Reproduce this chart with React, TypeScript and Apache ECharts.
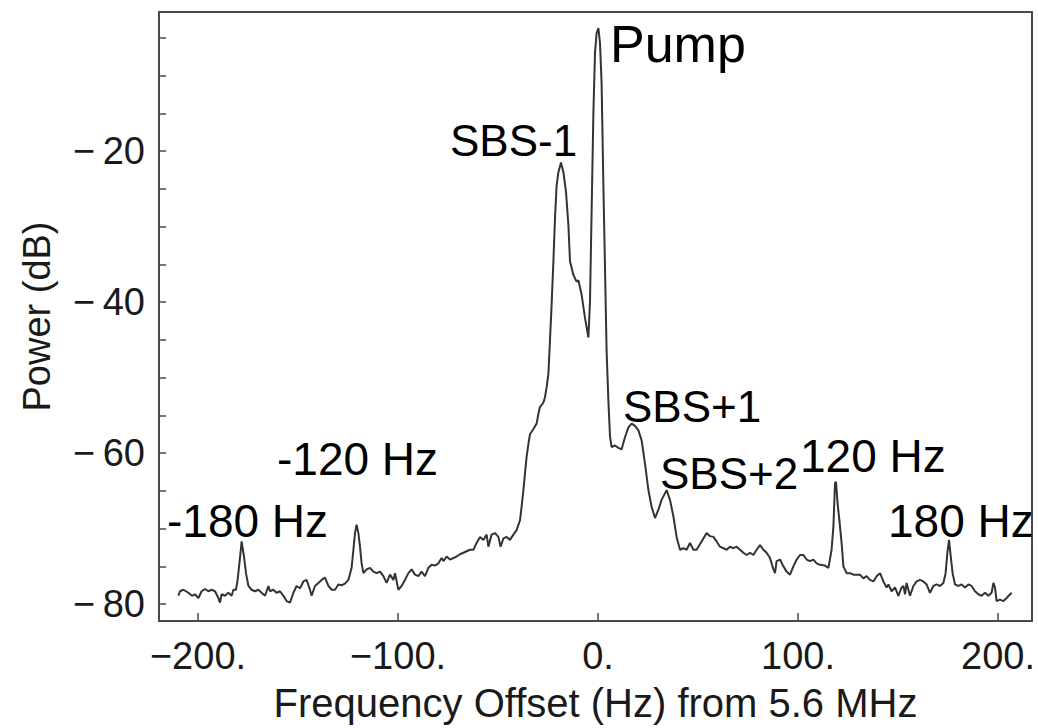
import React, { useEffect, useRef } from "react";
import * as echarts from "echarts";

// Spectrum trace: [frequency offset (Hz), power (dB)]
const spectrum: [number, number][] = [
  [-209.8,-78.9],[-209,-78.3],[-207.3,-78.1],[-204.8,-78.5],[-203,-78.9],[-201.5,-78.7],[-199.8,-79.2],[-198.2,-78.3],[-196.5,-78],[-194.8,-78.3],[-193.2,-78.1],[-191.5,-78.3],[-189.8,-79.2],[-189,-79.8],[-188.2,-78.7],[-186.5,-78.9],[-184.8,-78.5],[-183.2,-78.9],[-182.3,-78.1],[-181,-78.1],[-180.2,-76.8],[-179.3,-74.6],[-178.5,-72.6],[-178.2,-71.7],[-177,-73.7],[-176,-75.9],[-174.8,-77.6],[-173.2,-78.1],[-171.5,-78.3],[-169.8,-78.1],[-168.2,-78.5],[-166.5,-78.9],[-164.8,-77.6],[-164,-78.3],[-162.3,-78.1],[-160.7,-78.5],[-159,-78.3],[-157.3,-78.9],[-155.7,-79.6],[-154,-79.8],[-152.3,-78.5],[-150.7,-77.6],[-149,-77.9],[-147.3,-77],[-145.7,-76.8],[-144,-78.1],[-143.2,-78.9],[-141.5,-77.6],[-139.8,-77.2],[-138.2,-76.8],[-136.5,-76.5],
  [-134.8,-77.6],[-133.2,-78.1],[-131.5,-78.1],[-129.8,-77.4],[-128.2,-77.5],[-126.5,-77.3],[-124.8,-76.8],[-123.2,-75.2],[-122.3,-72.8],[-121.5,-70.6],[-120.7,-69.5],[-119.8,-70.6],[-119,-72.4],[-118.2,-74.6],[-117.3,-75.9],[-115.7,-75.4],[-114,-75.2],[-112.3,-75.7],[-110.7,-75.9],[-109,-75.7],[-107.3,-76.3],[-105.7,-77.2],[-104,-76.1],[-102.3,-76.8],[-101.5,-75.9],[-99.8,-78.1],[-98.2,-77.6],[-96.5,-76.8],[-94.8,-75.9],[-93.2,-75.4],[-91.5,-76.1],[-89.8,-76.3],[-88.2,-75.7],[-86.5,-76.3],[-84.8,-75.2],[-83.2,-74.8],[-81.5,-74.9],[-79.8,-74.6],[-78.2,-73.9],[-77.3,-74.3],[-75.7,-73.7],[-74,-74.1],[-72.3,-73.9],[-70.7,-73.7],[-69,-73.4],[-67.3,-73.2],[-65.7,-73],[-64,-72.8],
  [-62.3,-72.8],[-60.7,-71.9],[-59,-71.1],[-57.3,-71.5],[-55.7,-70.8],[-54.8,-72.4],[-53.2,-70.8],[-51.5,-70.6],[-49.8,-71.1],[-48.7,-72.4],[-47.3,-71.3],[-45.7,-71.1],[-44,-71.5],[-42.3,-70.8],[-40.7,-70.2],[-39,-68.9],[-38.2,-67.1],[-37.3,-64.9],[-36.5,-62.7],[-35.7,-60.5],[-34.8,-58.8],[-34,-57.5],[-32.3,-56.8],[-30.7,-56.1],[-29.8,-54.8],[-29,-53.9],[-27.3,-53.3],[-26.5,-52.6],[-25.7,-51.3],[-24.8,-49.5],[-24,-45],[-23.2,-40.4],[-22.3,-34.6],[-21.5,-28.9],[-20.7,-24.6],[-19.8,-22.8],[-18.5,-21.5],[-17.3,-22.8],[-16,-25.4],[-14.8,-29.8],[-14,-34.6],[-12.3,-36.4],[-10.7,-37.3],[-9.8,-37.1],[-8.2,-39],[-6.5,-42.1],[-4.8,-44.7],[-4,-39.9],[-3.2,-28.1],[-2.3,-14.9],[-1.5,-7],[-0.7,-4.4],[0.2,-3.7],[1,-5.7],[1.8,-11],[2.7,-24.6],[3.5,-35.5],[4.3,-46.5],[5.2,-53.1],[6,-57.8],[6.8,-59.2],[8.5,-59],[10.2,-59.3],[11.8,-59.5],[13.5,-57.9],[15.2,-56.6],[16.8,-56.1],[18.5,-56.4],[20.2,-57],[21.8,-58.3],[23.5,-61.4],[25.2,-64.9],[26.8,-67.1],[28.5,-68.6],[30.2,-67.5],[31.8,-66.2],[34.3,-64.9],[36,-66.2],[37.7,-68.4],[39.3,-71.1],[41,-72.8],[42.7,-72.6],[44.3,-72.8],[46,-71.9],[47.7,-72.8],[49.3,-72.8],[51.8,-71.7],[54.3,-70.6],[56,-71],[57.7,-71.1],[59.3,-71.7],[61,-72.4],[62.7,-72.6],[64.3,-72.8],[66,-72.4],[67.7,-72.6],[69.3,-72.4],[71,-72.8],[72.7,-73.2],[74.3,-73.5],[76,-73.2],[77.7,-73.5],[79.3,-72.8],[81,-72.2],[82.7,-72.8],[84.3,-73.2],[86,-73.9],[87.7,-75.4],[88.5,-75.9],[89.3,-74.3],[91,-74.1],[92.7,-75],[94.3,-75.7],[96,-76.1],[97.7,-75],[99.3,-74.1],[101,-73.5],[102.7,-73.5],[104.3,-74.1],[106,-74.3],[107.7,-74.1],[109.3,-74.6],[111,-74.8],[113.5,-74.9],[115.2,-75.2],[116.8,-72.8],[117.7,-69.7],[118.5,-64],[119,-63.8],[119.8,-66.7],[120.7,-68.9],[121.8,-71.9],[122.7,-75],[124.3,-75.9],[126,-75.9],[127.7,-76.1],[129.3,-76.1],[131,-76.1],[132.7,-76.6],[134.3,-76.3],[136,-76.8],[137.7,-77],[139.3,-76.3],[141,-75.9],[142.7,-77],[144.3,-77.8],[145.2,-77.4],[146.8,-78.3],[148.5,-77.8],[150.2,-78.9],[151.8,-77.8],[152.7,-77.6],[153.5,-78.7],[154.3,-77.2],[156,-78.9],[157.7,-77.6],[159.3,-77],[161,-76.8],[162.7,-77],[164.3,-77.4],[166,-78.5],[167.7,-77.6],[169.3,-77.4],[171,-77.6],[172.7,-77.2],[173.8,-75.9],[174.7,-73.2],[175.5,-71.5],[176.3,-73.5],[177.3,-75.9],[178.5,-77.4],[180.2,-77.6],[181.8,-77.4],[183.5,-77.8],[185.2,-77.4],[186.8,-77.6],[188.5,-78.3],[190.2,-78.7],[191.8,-78.9],[193.5,-78.5],[195.2,-78.9],[196.8,-78.5],[197.7,-77.2],[198.5,-77.8],[199.3,-79.6],[201,-79.4],[202.7,-79.6],[204.3,-79.2],[206.8,-78.5],
];

const xTicks = [-200, -100, 0, 100, 200];
const yLabelTicks = [-80, -60, -40, -20];
const yAllTicks = [-80, -75, -70, -65, -60, -55, -50, -45, -40, -35, -30, -25, -20, -15, -10, -5];
const annotationTexts = ["Pump", "SBS-1", "SBS+1", "SBS+2", "120 Hz", "180 Hz", "-120 Hz", "-180 Hz"];
// layout (pixel positions of annotation texts): [left x, middle y, font size]
const annotationLayout: [number, number, number][] = [
  [610, 44, 52],
  [450, 140, 44],
  [623, 406, 44],
  [660, 473, 44],
  [800, 456, 46],
  [888, 521, 46],
  [277, 459, 46],
  [167, 521, 46],
];

const FONT = "'Liberation Sans', Arial, Helvetica, sans-serif";
const MINUS = "\u2212";

const fmtY = (v: number) => (v < 0 ? MINUS + "\u2009" + Math.abs(v) : String(v));
const fmtX = (v: number) => (v < 0 ? MINUS + Math.abs(v) + "." : v + ".");

export default function App() {
  const ref = useRef<HTMLDivElement>(null);
  useEffect(() => {
    if (!ref.current) return;
    const chart = echarts.init(ref.current, undefined, { renderer: "svg" });
    chart.setOption({
      animation: false,
      backgroundColor: "#ffffff",
      grid: {
        left: 159,
        right: 6,
        top: 12,
        bottom: 103,
        show: true,
        borderColor: "#4a4a4a",
        borderWidth: 2,
        backgroundColor: "transparent",
      },
      xAxis: {
        type: "value",
        min: -219.5,
        max: 217,
        name: "Frequency Offset (Hz) from 5.6 MHz",
        nameLocation: "middle",
        nameGap: 62,
        nameTextStyle: { fontFamily: FONT, fontSize: 40, color: "#1a1a1a" },
        axisLine: { show: true, onZero: false, lineStyle: { color: "#4a4a4a", width: 2 } },
        axisTick: { show: true, inside: true, length: 8, customValues: xTicks, lineStyle: { color: "#4a4a4a", width: 1.5 } },
        axisLabel: {
          show: true,
          customValues: xTicks,
          formatter: fmtX,
          margin: 16,
          fontFamily: FONT,
          fontSize: 38,
          color: "#1a1a1a",
          showMinLabel: true,
          showMaxLabel: true,
        },
        splitLine: { show: false },
      },
      yAxis: {
        type: "value",
        min: -82.24,
        max: -1.58,
        name: "Power (dB)",
        nameLocation: "middle",
        nameGap: 103,
        nameRotate: 90,
        nameTextStyle: { fontFamily: FONT, fontSize: 38, color: "#1a1a1a" },
        axisLine: { show: true, onZero: false, lineStyle: { color: "#4a4a4a", width: 2 } },
        axisTick: { show: true, inside: true, length: 7, customValues: yAllTicks, lineStyle: { color: "#4a4a4a", width: 1.5 } },
        axisLabel: {
          show: true,
          customValues: yLabelTicks,
          formatter: fmtY,
          margin: 14,
          fontFamily: FONT,
          fontSize: 38,
          color: "#1a1a1a",
        },
        splitLine: { show: false },
      },
      series: [
        {
          type: "line",
          data: spectrum,
          showSymbol: false,
          symbol: "none",
          lineStyle: { color: "#333333", width: 2 },
          silent: true,
        },
      ],
      graphic: annotationTexts.map((t, i) => ({
        type: "text",
        x: annotationLayout[i][0],
        y: annotationLayout[i][1],
        style: {
          text: t,
          fontFamily: FONT,
          fontSize: annotationLayout[i][2],
          fill: "#000000",
          align: "left",
          verticalAlign: "middle",
        },
      })),
    });
    return () => chart.dispose();
  }, []);
  return <div ref={ref} style={{ position: "fixed", left: 0, top: 0, width: 1038, height: 728 }} />;
}
